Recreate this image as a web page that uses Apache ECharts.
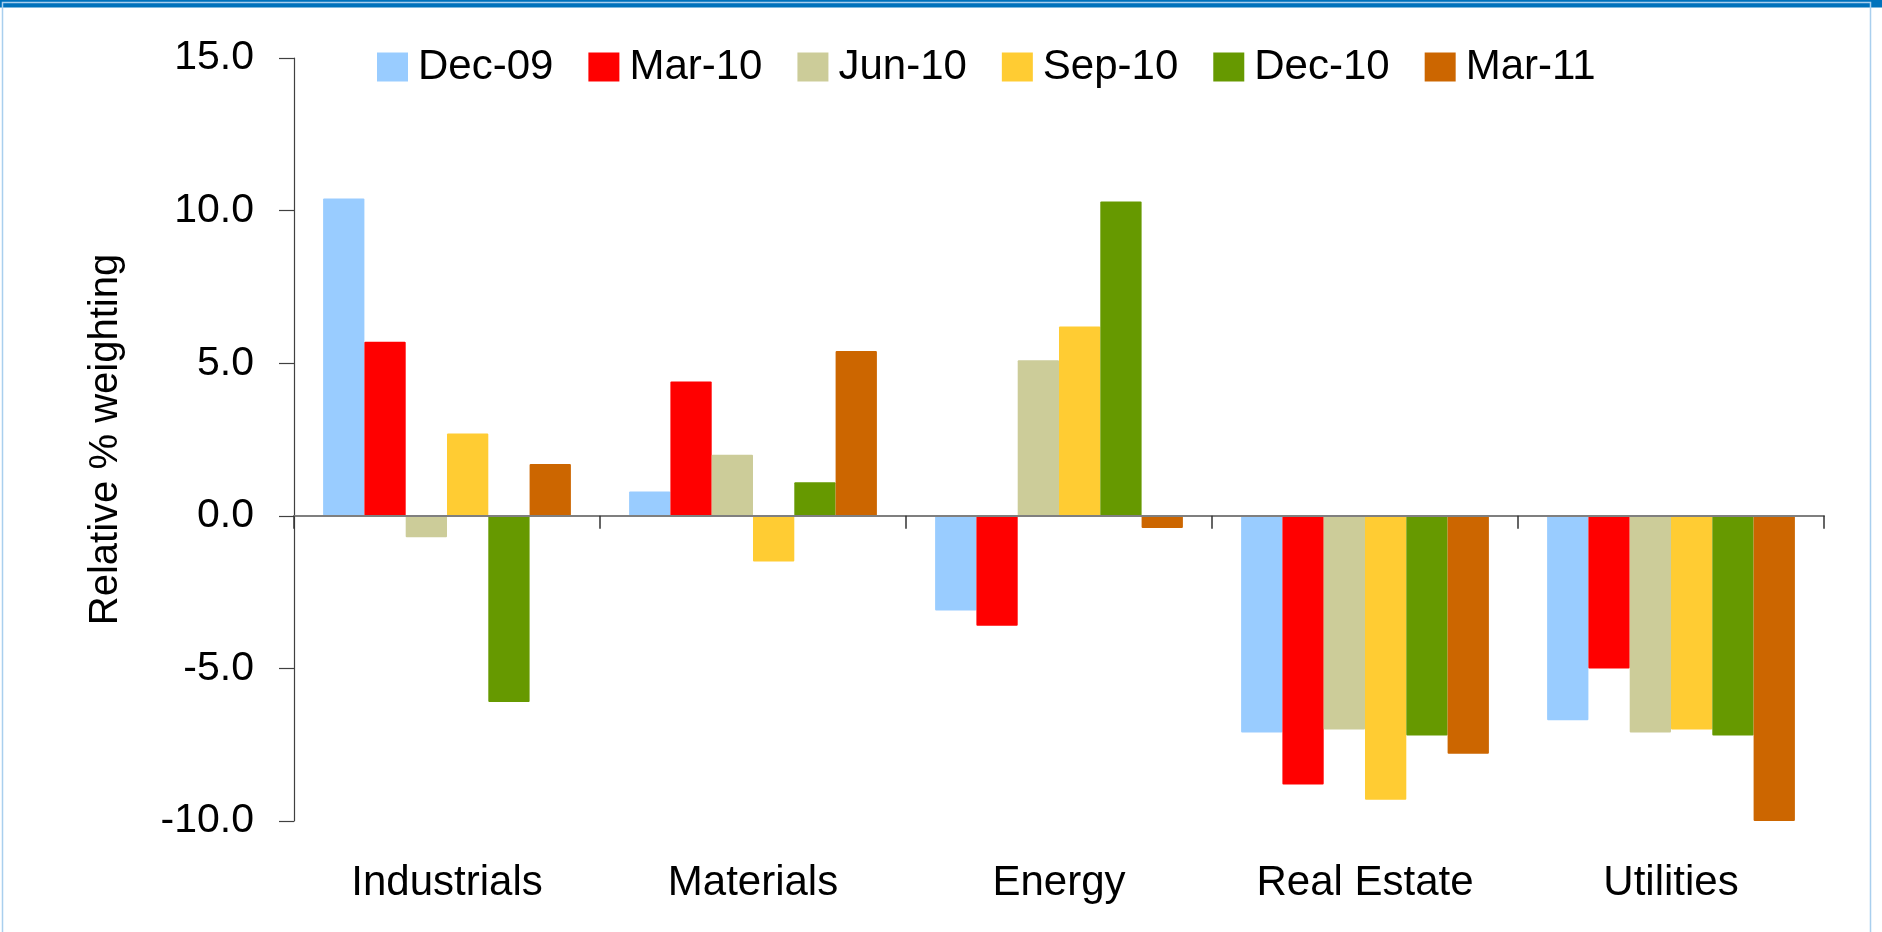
<!DOCTYPE html>
<html>
<head>
<meta charset="utf-8">
<title>Relative % weighting by sector</title>
<script src="https://cdn.jsdelivr.net/npm/echarts@6/dist/echarts.min.js"></script>
<style>
  html, body { margin: 0; padding: 0; background: #ffffff; }
  #chart { width: 1882px; height: 932px; }
</style>
</head>
<body>
<div id="chart"></div>
<script>
// Sectors on the category axis
const sectors = ['Industrials', 'Materials', 'Energy', 'Real Estate', 'Utilities'];

// Quarter-end snapshots (one bar series each)
const periods = ['Dec-09', 'Mar-10', 'Jun-10', 'Sep-10', 'Dec-10', 'Mar-11'];

// Relative % weighting per sector, one array per period
const dec09 = [10.4, 0.8, -3.1, -7.1, -6.7];
const mar10 = [5.7, 4.4, -3.6, -8.8, -5.0];
const jun10 = [-0.7, 2.0, 5.1, -7.0, -7.1];
const sep10 = [2.7, -1.5, 6.2, -9.3, -7.0];
const dec10 = [-6.1, 1.1, 10.3, -7.2, -7.2];
const mar11 = [1.7, 5.4, -0.4, -7.8, -10.0];

// Value-axis ticks
const yTicks = [-10, -5, 0, 5, 10, 15];

const seriesValues = [dec09, mar10, jun10, sep10, dec10, mar11];
const seriesColors = ['#99CCFF', '#FF0000', '#CCCC99', '#FFCC33', '#669900', '#CC6600'];

const FONT = "'Liberation Sans', Arial, sans-serif";

const chart = echarts.init(document.getElementById('chart'), null, { renderer: 'canvas' });

const option = {
  backgroundColor: '#ffffff',
  animation: false,
  textStyle: { fontFamily: FONT, color: '#000' },
  graphic: [
    // header band
    { type: 'rect', left: 0, top: 0, shape: { x: 0, y: 0, width: 1882, height: 7.5 },
      style: { fill: '#0072BC' }, silent: true },
    // thin panel frame
    { type: 'rect', left: 0, top: 0,
      shape: { x: 6.5, y: 10, width: 1868, height: 940 },
      style: { fill: 'none', stroke: '#A9CFEE', lineWidth: 1.5 }, silent: true }
  ],
  legend: {
    data: periods,
    left: 372,
    top: 41,
    itemWidth: 31,
    itemHeight: 29,
    itemGap: 35,
    icon: 'rect',
    textStyle: { fontFamily: FONT, fontSize: 42, color: '#000', padding: [0, 0, 0, 5] },
    selectedMode: false
  },
  grid: { left: 294, right: 58, top: 58, bottom: 111, containLabel: false },
  xAxis: [
    {
      // axis line and ticks drawn through zero
      type: 'category',
      data: sectors,
      position: 'bottom',
      z: 10,
      axisLine: { onZero: true, lineStyle: { color: '#7F7F7F', width: 2 } },
      axisTick: { show: true, length: 13, lineStyle: { color: '#333', width: 1.5 } },
      axisLabel: { show: false },
      splitLine: { show: false }
    },
    {
      // category names along the bottom of the plot
      type: 'category',
      data: sectors,
      position: 'bottom',
      axisLine: { show: false, onZero: false },
      axisTick: { show: false },
      axisLabel: { show: true, margin: 41, fontFamily: FONT, fontSize: 42, color: '#000' },
      splitLine: { show: false }
    }
  ],
  yAxis: {
    type: 'value',
    min: yTicks[0],
    max: yTicks[yTicks.length - 1],
    interval: 5,
    name: 'Relative % weighting',
    nameLocation: 'middle',
    nameRotate: 90,
    nameGap: 168,
    nameTextStyle: { fontFamily: FONT, fontSize: 40, color: '#000' },
    z: 10,
    axisLine: { show: true, lineStyle: { color: '#404040', width: 1.2 } },
    axisTick: { show: true, length: 15, lineStyle: { color: '#404040', width: 1.2 } },
    axisLabel: {
      margin: 40,
      fontFamily: FONT,
      fontSize: 41,
      color: '#000',
      formatter: v => v.toFixed(1)
    },
    splitLine: { show: false }
  },
  series: periods.map((name, i) => ({
    name,
    type: 'bar',
    xAxisIndex: 0,
    data: seriesValues[i],
    barWidth: 41.3,
    barGap: '0%',
    itemStyle: { color: seriesColors[i], borderRadius: 1 }
  }))
};

chart.setOption(option);
</script>
</body>
</html>
